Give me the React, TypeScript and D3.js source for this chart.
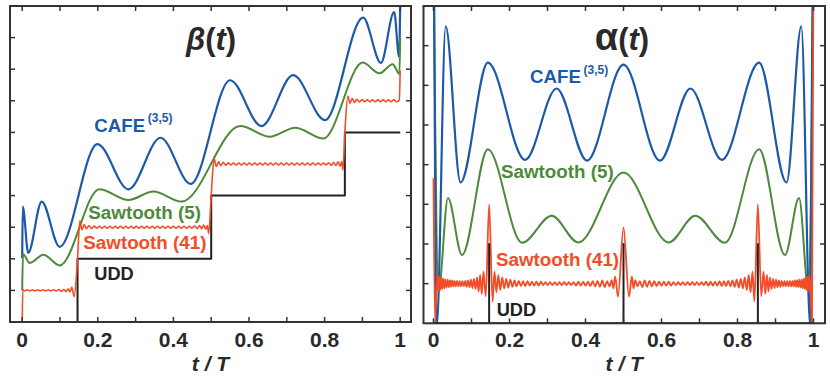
import React from 'react';
import * as d3 from 'd3';

type Pt = [number, number];

// ---------- axis ticks ----------
const xMajorTicks = [0, 0.2, 0.4, 0.6, 0.8, 1];
const xMajorLabels = ['0', '0.2', '0.4', '0.6', '0.8', '1'];
const xMinorTicks = [0, 0.1, 0.2, 0.3, 0.4, 0.5, 0.6, 0.7, 0.8, 0.9, 1];
const betaYTicks = [1, 2, 3, 4, 5, 6, 7, 8, 9];
const alphaYTicks = [1, 2, 3, 4, 5, 6, 7];

// ---------- beta(t) panel ----------
const betaUDD: Pt[] = [[0, 0], [0.1464, 0], [0.1464, 2], [0.5, 2], [0.5, 4], [0.8536, 4], [0.8536, 6], [1, 6]];

const betaCAFE: Pt[] = [
  [0, 2.02], [0.0015, 3.65], [0.016, 2.19], [0.0515, 3.81], [0.099, 2.38], [0.199, 5.63], [0.281, 4.2],
  [0.366, 5.83], [0.446, 4.37], [0.55, 7.65], [0.633, 6.2], [0.717, 7.81], [0.801, 6.39], [0.902, 9.63],
  [0.949, 8.2], [0.984, 9.81], [0.997, 8.4], [1.0, 10.0],
];

const betaSaw5: Pt[] = [
  [0, 1.0], [0.002, 2.15], [0.02, 1.87], [0.056, 2.13], [0.099, 1.79], [0.204, 4.2], [0.281, 3.86],
  [0.347, 4.13], [0.422, 3.81], [0.577, 6.2], [0.655, 5.86], [0.722, 6.15], [0.797, 5.81], [0.901, 8.21],
  [0.945, 7.87], [0.98, 8.16], [0.998, 7.85], [1.0, 9.0],
];

const betaSaw41: Pt[] = [
  [0, 0], [0.0015, 1.03], [0.007, 0.98], [0.013, 1.02], [0.02, 0.98], [0.027, 1.02], [0.034, 0.98],
  [0.041, 1.02], [0.048, 0.98], [0.055, 1.02], [0.062, 0.98], [0.069, 1.02], [0.076, 0.98], [0.083, 1.02],
  [0.09, 0.98], [0.097, 1.03], [0.104, 0.97], [0.11, 1.03], [0.116, 0.96], [0.122, 1.05], [0.1265, 0.95],
  [0.131, 1.1], [0.1375, 0.8], [0.1464, 2.0], [0.1525, 3.2], [0.158, 2.92], [0.164, 3.08], [0.17, 2.95],
  [0.1765, 3.05], [0.183, 2.96], [0.19, 3.04], [0.197, 2.97], [0.204, 3.03], [0.211, 2.97], [0.218, 3.03],
  [0.225, 2.97], [0.232, 3.03], [0.239, 2.97], [0.246, 3.03], [0.253, 2.97], [0.26, 3.03], [0.267, 2.97],
  [0.274, 3.03], [0.281, 2.97], [0.288, 3.03], [0.295, 2.97], [0.302, 3.03], [0.309, 2.97], [0.316, 3.03],
  [0.323, 2.97], [0.33, 3.03], [0.337, 2.97], [0.344, 3.03], [0.351, 2.97], [0.358, 3.03], [0.365, 2.97],
  [0.372, 3.03], [0.379, 2.97], [0.386, 3.03], [0.393, 2.97], [0.4, 3.03], [0.407, 2.97], [0.414, 3.03],
  [0.421, 2.97], [0.428, 3.03], [0.435, 2.97], [0.442, 3.03], [0.449, 2.97], [0.456, 3.04], [0.463, 2.96],
  [0.469, 3.05], [0.475, 2.95], [0.48, 3.07], [0.4855, 2.94], [0.4895, 3.05], [0.4935, 2.8], [0.5, 4.0],
  [0.5075, 5.17], [0.5135, 4.92], [0.5195, 5.07], [0.5255, 4.95], [0.532, 5.05], [0.5385, 4.96], [0.545, 5.04],
  [0.552, 4.97], [0.559, 5.03], [0.566, 4.97], [0.573, 5.03], [0.58, 4.97], [0.587, 5.03], [0.594, 4.97],
  [0.601, 5.03], [0.608, 4.97], [0.615, 5.03], [0.622, 4.97], [0.629, 5.03], [0.636, 4.97], [0.643, 5.03],
  [0.65, 4.97], [0.657, 5.03], [0.664, 4.97], [0.671, 5.03], [0.678, 4.97], [0.685, 5.03], [0.692, 4.97],
  [0.699, 5.03], [0.706, 4.97], [0.713, 5.03], [0.72, 4.97], [0.727, 5.03], [0.734, 4.97], [0.741, 5.03],
  [0.748, 4.97], [0.755, 5.03], [0.762, 4.97], [0.769, 5.03], [0.776, 4.97], [0.783, 5.03], [0.79, 4.97],
  [0.797, 5.03], [0.804, 4.97], [0.811, 5.04], [0.818, 4.96], [0.824, 5.05], [0.83, 4.95], [0.8355, 5.07],
  [0.841, 4.93], [0.845, 5.08], [0.8485, 4.81], [0.8536, 6.0], [0.8615, 7.15], [0.867, 6.92], [0.873, 7.07],
  [0.879, 6.95], [0.8855, 7.05], [0.892, 6.96], [0.899, 7.04], [0.906, 6.97], [0.913, 7.03], [0.92, 6.97],
  [0.927, 7.03], [0.934, 6.97], [0.941, 7.03], [0.948, 6.97], [0.955, 7.03], [0.962, 6.97], [0.969, 7.03],
  [0.976, 6.97], [0.983, 7.03], [0.99, 6.97], [0.9975, 7.02], [1.0, 7.97],
];

// ---------- alpha(t) panel ----------
const alphaUDD: Pt[] = [
  [0, 0], [0.1464, 0], [0.1464, 2], [0.1464, 0], [0.5, 0], [0.5, 2], [0.5, 0],
  [0.8536, 0], [0.8536, 2], [0.8536, 0], [1, 0],
];

const alphaCAFE: Pt[] = [
  [0, 12], [0.0085, -0.1], [0.032, 7.49], [0.071, 3.55], [0.143, 6.57], [0.241, 4.12], [0.324, 5.92],
  [0.404, 4.1], [0.5, 6.52], [0.596, 4.1], [0.676, 5.92], [0.759, 4.12], [0.857, 6.57], [0.929, 3.55],
  [0.968, 7.49], [0.9915, -0.1], [1.0, 12],
];

const alphaSaw5: Pt[] = [
  [0, 9], [0.0135, 0.85], [0.038, 3.16], [0.075, 1.72], [0.143, 4.39], [0.233, 2.03], [0.311, 2.71],
  [0.381, 2.04], [0.5, 3.8], [0.619, 2.04], [0.689, 2.71], [0.767, 2.03], [0.857, 4.39], [0.925, 1.72],
  [0.962, 3.16], [0.9865, 0.85], [1.0, 9],
];

const alphaSaw41: Pt[] = [
  [0, 3.66], [0.004, 0.0], [0.01, 1.22], [0.0125, 0.82], [0.015, 1.18], [0.0175, 0.84], [0.02, 1.15],
  [0.0225, 0.86], [0.025, 1.13], [0.028, 0.88], [0.031, 1.11], [0.034, 0.9], [0.037, 1.1], [0.04, 0.91],
  [0.043, 1.09], [0.046, 0.92], [0.049, 1.08], [0.052, 0.93], [0.0553, 1.07], [0.0586, 0.93], [0.062, 1.07],
  [0.0655, 0.93], [0.069, 1.07], [0.0725, 0.93], [0.076, 1.07], [0.0797, 0.93], [0.0834, 1.07], [0.0871, 0.92],
  [0.0909, 1.08], [0.0947, 0.91], [0.0986, 1.1], [0.1025, 0.89], [0.1065, 1.12], [0.1105, 0.86], [0.1146, 1.16],
  [0.1187, 0.8], [0.1228, 1.22], [0.127, 0.74], [0.1315, 1.3], [0.1375, 0.68], [0.1464, 3.0], [0.1555, 0.55],
  [0.1605, 1.3], [0.1655, 0.78], [0.1705, 1.22], [0.1755, 0.84], [0.1808, 1.16], [0.1861, 0.88], [0.1914, 1.12],
  [0.1967, 0.9], [0.2022, 1.1], [0.2077, 0.92], [0.2132, 1.08], [0.2187, 0.93], [0.2244, 1.07], [0.2301, 0.94],
  [0.2358, 1.06], [0.2415, 0.94], [0.2473, 1.06], [0.2531, 0.95], [0.2589, 1.05], [0.2648, 0.95], [0.2707, 1.05],
  [0.2766, 0.95], [0.2826, 1.05], [0.2886, 0.96], [0.2946, 1.04], [0.3007, 0.96], [0.3068, 1.04], [0.3129, 0.96],
  [0.319, 1.04], [0.3251, 0.96], [0.3313, 1.04], [0.3375, 0.96], [0.3437, 1.04], [0.3499, 0.96], [0.3561, 1.04],
  [0.3623, 0.96], [0.3686, 1.04], [0.3749, 0.95], [0.3812, 1.05], [0.3875, 0.95], [0.3938, 1.05], [0.4001, 0.95],
  [0.4064, 1.05], [0.4127, 0.94], [0.419, 1.06], [0.4253, 0.93], [0.4316, 1.07], [0.4379, 0.92], [0.4442, 1.08],
  [0.4505, 0.91], [0.4568, 1.06], [0.4631, 0.93], [0.469, 1.09], [0.4735, 0.88], [0.478, 1.18], [0.4855, 0.67],
  [0.5, 2.42], [0.5145, 0.67], [0.522, 1.18], [0.5265, 0.88], [0.531, 1.09], [0.5369, 0.93], [0.5432, 1.06],
  [0.5495, 0.91], [0.5558, 1.08], [0.5621, 0.92], [0.5684, 1.07], [0.5747, 0.93], [0.581, 1.06], [0.5873, 0.94],
  [0.5936, 1.05], [0.5999, 0.95], [0.6062, 1.05], [0.6125, 0.95], [0.6188, 1.05], [0.6251, 0.95], [0.6314, 1.04],
  [0.6377, 0.96], [0.6439, 1.04], [0.6501, 0.96], [0.6563, 1.04], [0.6625, 0.96], [0.6687, 1.04], [0.6749, 0.96],
  [0.681, 1.04], [0.6871, 0.96], [0.6932, 1.04], [0.6993, 0.96], [0.7054, 1.04], [0.7114, 0.96], [0.7174, 1.05],
  [0.7234, 0.95], [0.7293, 1.05], [0.7352, 0.95], [0.7411, 1.05], [0.7469, 0.95], [0.7527, 1.06], [0.7585, 0.94],
  [0.7642, 1.06], [0.7699, 0.94], [0.7756, 1.07], [0.7813, 0.93], [0.7868, 1.08], [0.7923, 0.92], [0.7978, 1.1],
  [0.8033, 0.9], [0.8086, 1.12], [0.8139, 0.88], [0.8192, 1.16], [0.8245, 0.84], [0.8295, 1.22], [0.8345, 0.78],
  [0.8395, 1.3], [0.8445, 0.55], [0.8536, 3.0], [0.8625, 0.68], [0.8685, 1.3], [0.873, 0.74], [0.8772, 1.22],
  [0.8813, 0.8], [0.8854, 1.16], [0.8895, 0.86], [0.8935, 1.12], [0.8975, 0.89], [0.9014, 1.1], [0.9053, 0.91],
  [0.9091, 1.08], [0.9129, 0.92], [0.9166, 1.07], [0.9203, 0.93], [0.924, 1.07], [0.9275, 0.93], [0.931, 1.07],
  [0.9345, 0.93], [0.938, 1.07], [0.9414, 0.93], [0.9447, 1.07], [0.948, 0.93], [0.951, 1.08], [0.954, 0.92],
  [0.957, 1.09], [0.96, 0.91], [0.963, 1.1], [0.966, 0.9], [0.969, 1.11], [0.972, 0.88], [0.975, 1.13],
  [0.9775, 0.86], [0.98, 1.15], [0.9825, 0.84], [0.985, 1.18], [0.9875, 0.82], [0.99, 1.22], [0.996, 0.0],
  [1.0, 9.0],
];

// ---------- styling ----------
const BLUE = '#1c5aa9';
const GREEN = '#4d8a3b';
const RED = '#f24d27';
const BLACK = '#222222';
const AXIS = '#333333';
const FONT = "'Liberation Sans', Arial, Helvetica, sans-serif";

type Series = { data: Pt[]; color: string; width: number; curved: boolean };
type Label = { text: string; sup?: string; x: number; y: number; color: string; size: number };

type PanelProps = {
  id: string;
  left: number; right: number; top: number; bottom: number;
  t0: number; t1: number;
  yMax: number;
  yTicks: number[];
  series: Series[];
  labels: Label[];
  title: React.ReactNode;
  titleX: number;
};

function Panel(p: PanelProps) {
  const x = d3.scaleLinear().domain([0, 1]).range([p.t0, p.t1]);
  const y = d3.scaleLinear().domain([0, p.yMax]).range([p.bottom, p.top]);
  const tl = 5;
  const cx = (p.left + p.right) / 2;
  return (
    <g>
      <defs>
        <clipPath id={p.id}>
          <rect x={p.left} y={p.top} width={p.right - p.left} height={p.bottom - p.top} />
        </clipPath>
      </defs>
      <g clipPath={`url(#${p.id})`}>
        {p.series.map((s, i) => {
          const gen = d3.line<Pt>().x(d => x(d[0])).y(d => y(d[1]));
          gen.curve(s.curved ? d3.curveMonotoneX : d3.curveLinear);
          return (
            <path key={i} d={gen(s.data) || ''} fill="none" stroke={s.color}
              strokeWidth={s.width} strokeLinejoin="round" strokeLinecap="butt" />
          );
        })}
      </g>
      <rect x={p.left} y={p.top} width={p.right - p.left} height={p.bottom - p.top}
        fill="none" stroke={AXIS} strokeWidth={2} />
      {xMinorTicks.map((t, i) => (
        <g key={'xt' + i} stroke={AXIS} strokeWidth={1.5}>
          <line x1={x(t)} x2={x(t)} y1={p.bottom} y2={p.bottom - tl} />
          <line x1={x(t)} x2={x(t)} y1={p.top} y2={p.top + tl} />
        </g>
      ))}
      {p.yTicks.map((v, i) => (
        <g key={'yt' + i} stroke={AXIS} strokeWidth={1.5}>
          <line x1={p.left} x2={p.left + tl} y1={y(v)} y2={y(v)} />
          <line x1={p.right} x2={p.right - tl} y1={y(v)} y2={y(v)} />
        </g>
      ))}
      {xMajorTicks.map((t, i) => (
        <text key={'xl' + i} x={x(t)} y={346.5} textAnchor="middle" fontFamily={FONT}
          fontWeight="bold" fontSize={21} fill="#2a2a2a">{xMajorLabels[i]}</text>
      ))}
      <text x={cx} y={370.5} textAnchor="middle" fontFamily={FONT} fontWeight="bold"
        fontStyle="italic" fontSize={21} fill="#2a2a2a">t / T</text>
      <text x={p.titleX} y={50} textAnchor="middle" fontFamily={FONT} fontWeight="bold"
        fontSize={31} fill="#2a2a2a">{p.title}</text>
      {p.labels.map((l, i) => (
        <g key={'lb' + i}>
          <text x={l.x} y={l.y} fontFamily={FONT} fontWeight="bold" fontSize={l.size} fill={l.color}>
            {l.text}
          </text>
          {l.sup ? (
            <text x={l.x + 53.5} y={l.y - 9.5} fontFamily={FONT}
              fontWeight="bold" fontSize={12} fill={l.color}>{l.sup}</text>
          ) : null}
        </g>
      ))}
    </g>
  );
}

export default function App() {
  return (
    <svg width={830} height={377} viewBox="0 0 830 377"
      style={{ position: 'absolute', left: 0, top: 0, background: '#ffffff' }}>
      <rect x={0} y={0} width={830} height={377} fill="#ffffff" />
      <Panel
        id="clipBeta"
        left={10} right={411} top={6} bottom={322}
        t0={22.2} t1={400.2}
        yMax={10}
        yTicks={betaYTicks}
        series={[
          { data: betaUDD, color: BLACK, width: 2, curved: false },
          { data: betaCAFE, color: BLUE, width: 2.2, curved: true },
          { data: betaSaw5, color: GREEN, width: 2, curved: true },
          { data: betaSaw41, color: RED, width: 1.6, curved: true },
        ]}
        labels={[
          { text: 'CAFE', sup: '(3,5)', x: 94.3, y: 131.5, color: BLUE, size: 18.7 },
          { text: 'Sawtooth (5)', x: 88.3, y: 219, color: GREEN, size: 18.8 },
          { text: 'Sawtooth (41)', x: 83.3, y: 248.5, color: RED, size: 18.8 },
          { text: 'UDD', x: 94.3, y: 279.6, color: BLACK, size: 18.2 },
        ]}
        title={<><tspan fontStyle="italic">β</tspan><tspan>(</tspan><tspan fontStyle="italic">t</tspan><tspan>)</tspan></>}
        titleX={211}
      />
      <Panel
        id="clipAlpha"
        left={423.5} right={825} top={6} bottom={323.3}
        t0={433.5} t1={813.5}
        yMax={8}
        yTicks={alphaYTicks}
        series={[
          { data: alphaSaw5, color: GREEN, width: 2, curved: true },
          { data: alphaCAFE, color: BLUE, width: 2.2, curved: true },
          { data: alphaSaw41, color: RED, width: 1.8, curved: true },
          { data: alphaUDD, color: BLACK, width: 2, curved: false },
        ]}
        labels={[
          { text: 'CAFE', sup: '(3,5)', x: 530, y: 83.3, color: BLUE, size: 18.7 },
          { text: 'Sawtooth (5)', x: 501, y: 178.4, color: GREEN, size: 18.8 },
          { text: 'Sawtooth (41)', x: 496, y: 266, color: RED, size: 18.8 },
          { text: 'UDD', x: 496.7, y: 315.6, color: BLACK, size: 18.2 },
        ]}
        title={<><tspan fontSize={38}>α</tspan><tspan>(</tspan><tspan fontStyle="italic">t</tspan><tspan>)</tspan></>}
        titleX={622}
      />
    </svg>
  );
}
